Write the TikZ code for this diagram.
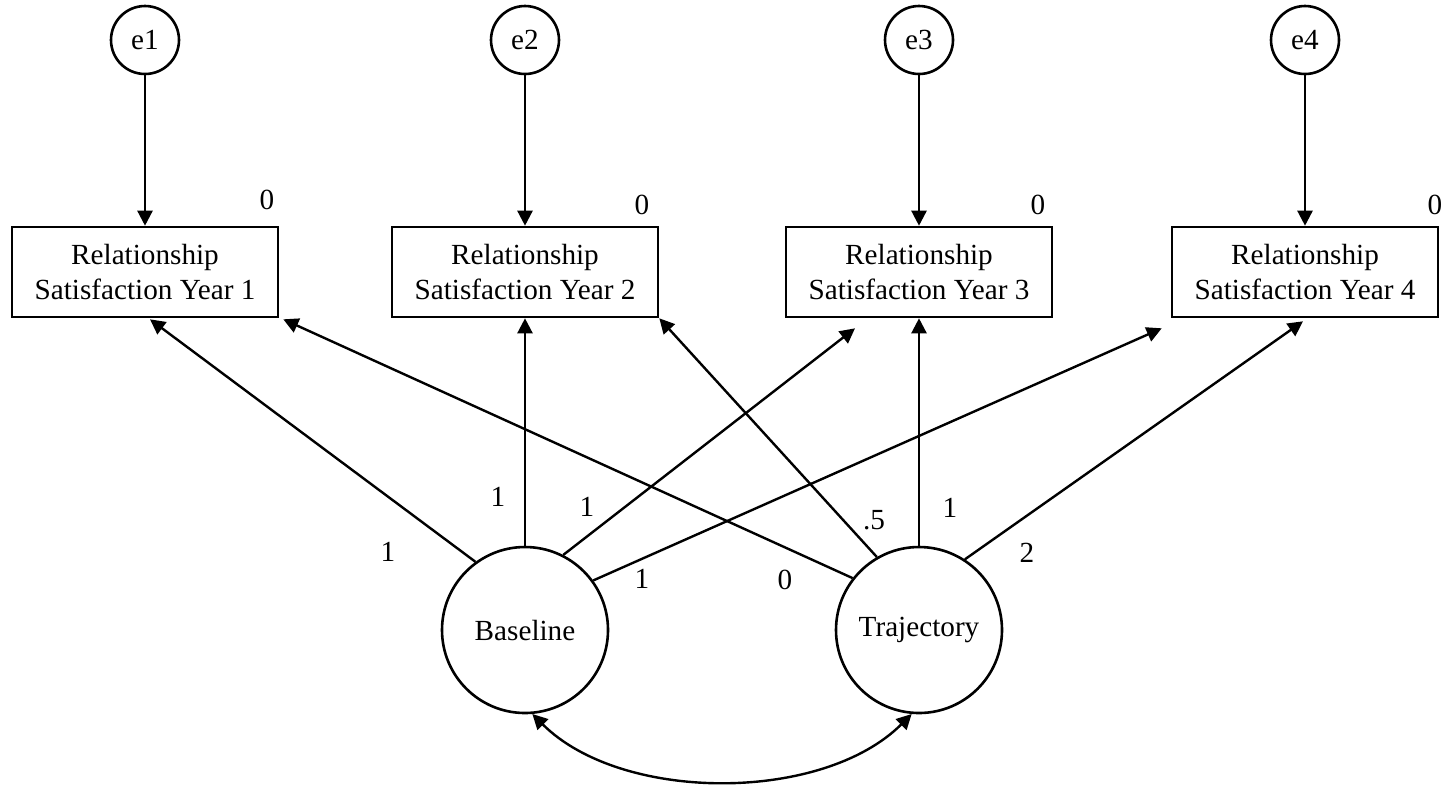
\documentclass[tikz,border=0pt]{standalone}
\usepackage{fontspec}
\setmainfont{Liberation Serif}
\usetikzlibrary{arrows.meta,positioning}
\tikzset{
  obs/.style={draw, line width=1.3pt, minimum width=133pt, minimum height=45pt, inner sep=0pt, align=center},
  lat/.style={draw, circle, line width=1.3pt, minimum size=83pt, inner sep=0pt},
  err/.style={draw, circle, line width=1.3pt, minimum size=34pt, inner sep=0pt},
  reg/.style={line width=1.2pt, -{Triangle[length=7.5pt,width=7.5pt]}},
  cov/.style={line width=1.2pt, {Triangle[length=7.5pt,width=7.5pt]}-{Triangle[length=7.5pt,width=7.5pt]}},
  wt/.style={inner sep=0pt}
}

\begin{document}
\begin{tikzpicture}[x=0.5pt, y=-0.5pt, font=\fontsize{14.6pt}{17.5pt}\selectfont]
  \useasboundingbox (0,0) rectangle (1444,784);

  % indicators with their errors and intercepts
  \foreach \i/\x/\lx/\ly in {1/145/267/200, 2/525/642/205, 3/919/1038/205, 4/1305/1435/205} {
    \node[err] (e\i) at (\x,40) {e\i};
    \node[obs] (y\i) at (\x,272) {Relationship\\Satisfaction Year \i};
    \node[wt] (z\i) at (\lx,\ly) {0};
    \draw[reg] (e\i) -- (y\i);
  }

  % growth factors
  \node[lat] (base) at (525,630) {Baseline};
  \node[lat] (traj) at (919,630) {Trajectory};

  % loadings
  \draw[reg] (base.126) -- ([shift={(5,1)}]y1.south);
  \draw[reg] (base.north) -- (y2.south);
  \draw[reg] (base.63) -- ([shift={(-64,10)}]y3.south);
  \draw[reg] (base.36) -- ([shift={(-9,10)}]y4.south west);
  \draw[reg] (traj.142) -- ([shift={(4,1)}]y1.south east);
  \draw[reg] (traj.120) -- (y2.south east);
  \draw[reg] (traj.north) -- (y3.south);
  \draw[reg] (traj.57) -- ([shift={(-2,3)}]y4.south);

  \node[wt] (b1) at (388,552) {1};
  \node[wt] (b2) at (498,497) {1};
  \node[wt] (b3) at (587,507) {1};
  \node[wt] (b4) at (642,579) {1};
  \node[wt] (t1) at (785,580) {0};
  \node[wt] (t2) at (874,520) {.5};
  \node[wt] (t3) at (950,508) {1};
  \node[wt] (t4) at (1027,553) {2};

  % factor covariance
  \draw[cov] (base.-85) .. controls +(89,89) and +(-89,89) .. (traj.-95);
\end{tikzpicture}
\end{document}
